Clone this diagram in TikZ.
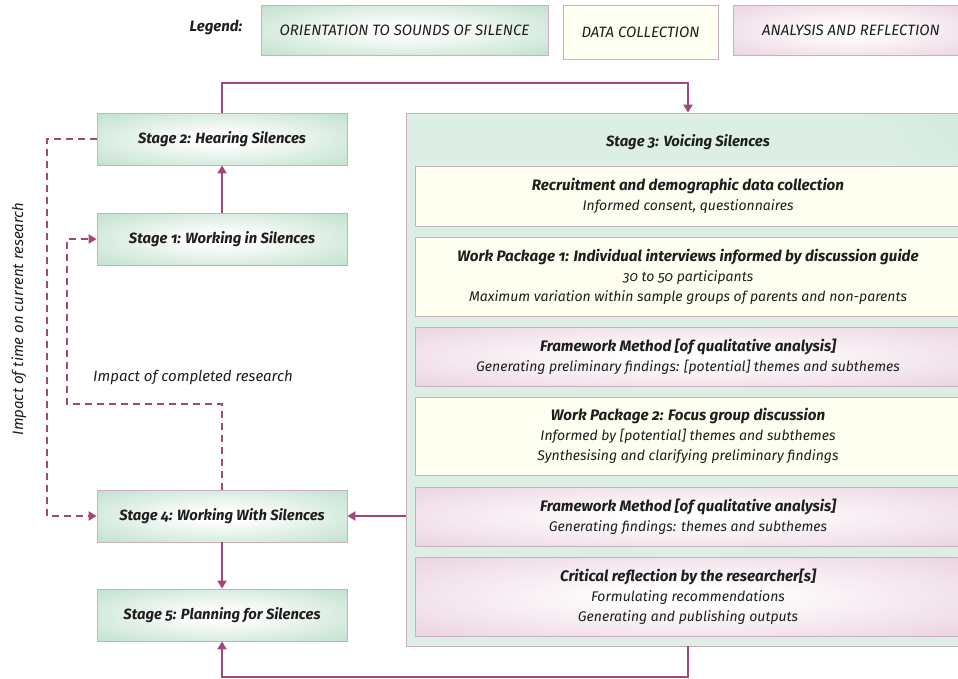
\documentclass[tikz,border=0pt]{standalone}
\usepackage{fontspec}
\setmainfont{Fira Sans}[Numbers=OldStyle]
\usetikzlibrary{arrows.meta,calc}
\definecolor{linkpurple}{HTML}{A5467A}
\definecolor{edgegray}{HTML}{CBAFBF}
\definecolor{inkgray}{HTML}{1E1E1E}
\definecolor{stgreen}{HTML}{A4D3B6}
\definecolor{stpink}{HTML}{E2BFD3}
\definecolor{stcream}{HTML}{FFFFF1}
\definecolor{stmint}{HTML}{DDEFE5}
\pgfdeclareradialshading{greenglow}{\pgfpoint{0bp}{0bp}}{color(0bp)=(white); color(5bp)=(white); color(50bp)=(stgreen); color(71bp)=(stgreen)}
\pgfdeclareradialshading{pinkglow}{\pgfpoint{0bp}{0bp}}{color(0bp)=(white); color(5bp)=(white); color(50bp)=(stpink); color(71bp)=(stpink)}
\pgfdeclareradialshading{mintglow}{\pgfpoint{50bp}{50bp}}{color(0bp)=(stgreen!85!stmint); color(30bp)=(stmint); color(150bp)=(stmint)}
\newcommand\stephead[1]{{\fontsize{15.2}{20}\selectfont\bfseries #1}}

\begin{document}
\begin{tikzpicture}[x=1pt,y=-1pt,
  every node/.style={text=inkgray, font=\fontsize{14}{20}\selectfont\itshape},
  stagebox/.style={draw=edgegray, line width=0.8pt, shading=greenglow, minimum width=250, minimum height=52, font=\fontsize{14.8}{20}\selectfont\bfseries\itshape},
  collectbox/.style={draw=edgegray, line width=0.8pt, fill=stcream, minimum width=546, align=center},
  reflectbox/.style={draw=edgegray, line width=0.8pt, shading=pinkglow, minimum width=546, align=center},
  link/.style={draw=linkpurple, line width=2pt, -{Triangle[length=8pt,width=9pt]}},
  dashlink/.style={link, dash pattern=on 7pt off 5pt},
]
\useasboundingbox (0,0) rectangle (958,678);
\clip (0,0) rectangle (958,678);
% legend
\node[font=\fontsize{15}{20}\selectfont\bfseries\itshape] (leg) at (216,27) {Legend:};
\node[draw=edgegray, shading=greenglow, minimum width=287, minimum height=50, font=\fontsize{15}{20}\selectfont\itshape] (leg1) at (404.5,30) {ORIENTATION TO SOUNDS OF SILENCE};
\node[draw=edgegray, fill=stcream, minimum width=155, minimum height=54, font=\fontsize{15}{20}\selectfont\itshape] (leg2) at (640.5,32) {DATA COLLECTION};
\node[draw=edgegray, shading=pinkglow, minimum width=236, minimum height=50, font=\fontsize{15}{20}\selectfont\itshape] (leg3) at (851,30) {ANALYSIS AND REFLECTION};
% stages on the left
\node[stagebox] (s2) at (222,139) {Stage 2: Hearing Silences};
\node[stagebox] (s1) at (222,239) {Stage 1: Working in Silences};
\node[stagebox] (s4) at (222,516) {Stage 4: Working With Silences};
\node[stagebox] (s5) at (222,615) {Stage 5: Planning for Silences};
% stage 3 and its steps
\node[draw=edgegray, line width=0.8pt, shading=mintglow, minimum width=564, minimum height=533] (s3box) at (688,379.5) {};
\node[font=\fontsize{14.8}{20}\selectfont\bfseries\itshape] (s3) at (688,142) {Stage 3: Voicing Silences};
\node[collectbox, minimum height=60] (rec) at (688,196) {\stephead{Recruitment and demographic data collection}\\Informed consent, questionnaires};
\node[collectbox, minimum height=79] (wp1) at (688,276.5) {\stephead{Work Package 1: Individual interviews informed by discussion guide}\\30 to 50 participants\\Maximum variation within sample groups of parents and non-parents};
\node[reflectbox, minimum height=59] (fm1) at (688,356.5) {\stephead{Framework Method [of qualitative analysis]}\\Generating preliminary findings: [potential] themes and subthemes};
\node[collectbox, minimum height=78] (wp2) at (688,436) {\stephead{Work Package 2: Focus group discussion}\\Informed by [potential] themes and subthemes\\Synthesising and clarifying preliminary findings};
\node[reflectbox, minimum height=59] (fm2) at (688,516.5) {\stephead{Framework Method [of qualitative analysis]}\\Generating findings: themes and subthemes};
\node[reflectbox, minimum height=79] (crit) at (688,596.5) {\stephead{Critical reflection by the researcher[s]}\\Formulating recommendations\\Generating and publishing outputs};
% side labels
\node[font=\fontsize{15}{20}\selectfont\itshape] (done) at (193,377) {Impact of completed research};
\node[rotate=90, font=\fontsize{15}{20}\selectfont\itshape] (time) at (19,319) {Impact of time on current research};
% connectors
\draw[link] (s1) -- (s2);
\draw[link] (s2.north) -- ++(0,-30) -| (s3box.north);
\draw[link] (s3box.west |- s4.east) -- (s4.east);
\draw[link] (s4) -- (s5);
\draw[link] (s3box.south) -- ++(0,31) -| (s5.south);
\draw[dashlink] (s2.west) -- ++(-50,0) |- (s4.west);
\draw[dashlink] (s4.north) -- ++(0,-86) -| ([xshift=-30pt]s1.west) -- (s1.west);
\end{tikzpicture}
\end{document}
